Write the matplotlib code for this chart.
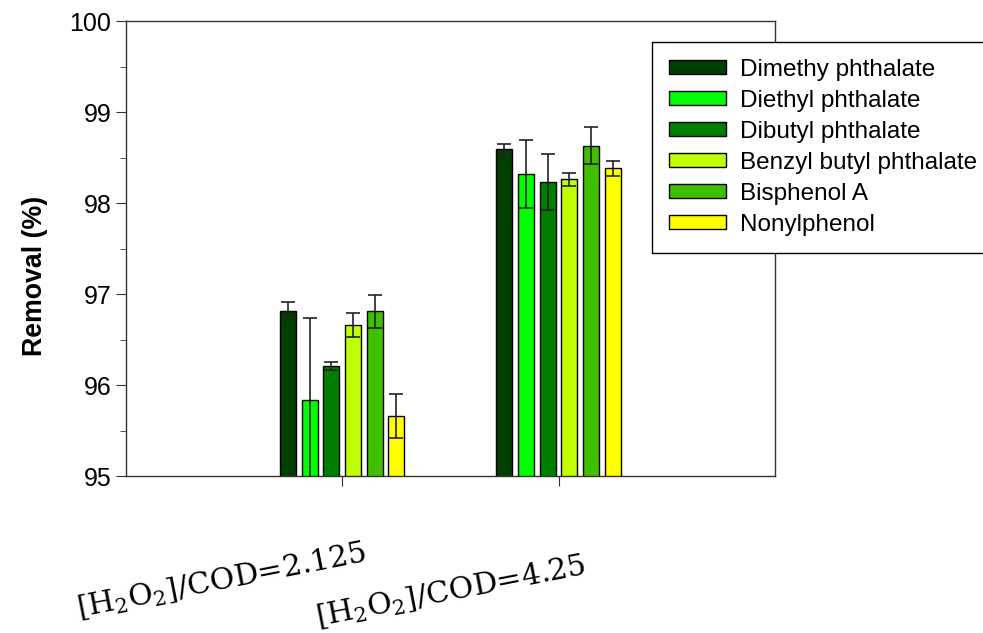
import matplotlib
matplotlib.use("Agg")
import matplotlib.pyplot as plt
import matplotlib.transforms as mtransforms
import numpy as np

# Removal (%) for each compound at the two H2O2/COD ratios
groups = [r"$[\mathrm{H_2O_2}]/\mathrm{COD}$=2.125", r"$[\mathrm{H_2O_2}]/\mathrm{COD}$=4.25"]
compounds = ["Dimethy phthalate", "Diethyl phthalate", "Dibutyl phthalate",
             "Benzyl butyl phthalate", "Bisphenol A", "Nonylphenol"]
removal = [
    [96.81, 98.59],
    [95.83, 98.32],
    [96.21, 98.23],
    [96.66, 98.26],
    [96.81, 98.63],
    [95.66, 98.38],
]
errors = [
    [0.10, 0.06],
    [0.91, 0.37],
    [0.04, 0.31],
    [0.13, 0.07],
    [0.18, 0.20],
    [0.24, 0.08],
]
colors = ["#003f00", "#00ff00", "#007f00", "#bfff00", "#3fbf00", "#ffff00"]

plt.rcParams['font.family'] = ['Liberation Sans', 'DejaVu Sans']
plt.rcParams['mathtext.fontset'] = 'dejavuserif'

fig = plt.figure(figsize=(9.83, 6.33), dpi=100)
ax = fig.add_axes([0.1282, 0.248, 0.660, 0.7188])

x = np.arange(1, len(groups) + 1)
width = 0.074
step = 0.1
for i, name in enumerate(compounds):
    pos = x + (i - (len(compounds) - 1) / 2) * step
    ax.bar(pos, removal[i], width, yerr=errors[i], color=colors[i],
           edgecolor='black', linewidth=1.0, label=name,
           error_kw=dict(ecolor='#222222', elinewidth=1.2, capsize=5, capthick=1.2))

ax.set_xlim(0, 3)
ax.set_ylim(95, 100)
ax.set_yticks([95, 96, 97, 98, 99, 100])
ax.set_yticks(np.arange(95.5, 100, 1), minor=True)
ax.tick_params(axis='y', which='major', labelsize=18, length=7, direction='out', colors='#333333', labelcolor='black')
ax.tick_params(axis='y', which='minor', length=4, direction='out', colors='#333333')
ax.set_xticks(x)
ax.set_xticklabels(groups, rotation=11, ha='right', va='baseline',
                   rotation_mode='anchor', fontsize=21.5, family='DejaVu Serif')
ax.tick_params(axis='x', length=7, direction='out', pad=0, colors='#333333', labelcolor='black')
# shift the rotated labels (in pixels at 100 dpi) to sit as in the original
label_shift = [(25, -75), (29, -88)]
for lab, (dx, dy) in zip(ax.get_xticklabels(), label_shift):
    lab.set_transform(lab.get_transform() +
                      mtransforms.ScaledTranslation(dx / 100, dy / 100, fig.dpi_scale_trans))

for s in ax.spines.values():
    s.set_color('#333333')
    s.set_linewidth(1.0)

ax.set_ylabel('Removal (%)', fontsize=19.3, fontweight='bold')
ax.yaxis.set_label_coords(-0.121, 0.44)

leg = ax.legend(loc='upper left', bbox_to_anchor=(0.81, 0.954), fontsize=17.5,
                frameon=True, fancybox=False, edgecolor='black', framealpha=1,
                handlelength=2.35, handleheight=0.5, labelspacing=0.37,
                borderpad=0.7, handletextpad=0.6, borderaxespad=0)
leg.get_frame().set_linewidth(1.0)

fig.savefig('out.png', dpi=100)
